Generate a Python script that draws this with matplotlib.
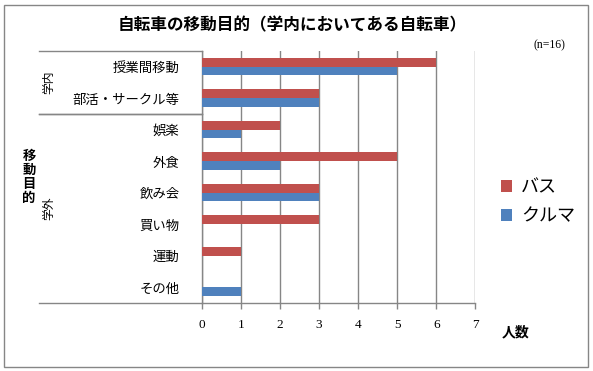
import matplotlib
matplotlib.use("Agg")
import matplotlib.pyplot as plt
from matplotlib.patches import Rectangle
import numpy as np

plt.rcParams['font.family'] = ['Noto Sans CJK JP', 'DejaVu Sans']

categories = ["授業間移動", "部活・サークル等", "娯楽", "外食", "飲み会", "買い物", "運動", "その他"]
bus = [6, 3, 2, 5, 3, 3, 1, 0]
car = [5, 3, 1, 2, 3, 0, 0, 1]
series_names = ["バス", "クルマ"]
groups = [("学内", 0, 2), ("学外", 2, 8)]
x_ticks = [0, 1, 2, 3, 4, 5, 6, 7]

RED = "#C0504D"
BLUE = "#4F81BD"
GRAY = "#868686"

W, H = 593, 371
fig = plt.figure(figsize=(W / 100, H / 100), dpi=100)
fig.patch.set_facecolor("white")

# outer frame
fig.add_artist(Rectangle((4 / W, 1 - 367 / H), 584 / W, 362 / H, transform=fig.transFigure,
                         fill=False, edgecolor=GRAY, linewidth=1.0))

left, right, top, bottom = 201.7, 475.3, 51, 302.7
ax = fig.add_axes([left / W, 1 - bottom / H, (right - left) / W, (bottom - top) / H])

y = np.arange(len(categories))
h = 0.277
ax.barh(y - h / 2, bus, height=h, color=RED, label=series_names[0], zorder=3)
ax.barh(y + h / 2, car, height=h, color=BLUE, label=series_names[1], zorder=3)

ax.set_ylim(len(categories) - 0.5, -0.5)
ax.set_xlim(0, 7)
ax.set_xticks(x_ticks)
ax.set_xticklabels([str(t) for t in x_ticks], fontfamily="Liberation Serif", fontsize=9.5)
ax.set_yticks(y)
ax.set_yticklabels(categories, fontsize=9.6)
ax.tick_params(axis="y", length=0, pad=16)
ax.tick_params(axis="x", length=4, color=GRAY, width=1, pad=8)

ax.grid(axis="x", color=GRAY, linewidth=1.0, zorder=0)
ax.set_axisbelow(True)
for s in ["top", "right"]:
    ax.spines[s].set_visible(False)
for s in ["left", "bottom"]:
    ax.spines[s].set_color(GRAY)
    ax.spines[s].set_linewidth(1.0)

# multi-level category lines and group labels
tr = ax.get_yaxis_transform()
x0 = (39 - left) / (right - left)
for name, a, b in groups:
    ax.plot([x0, 0], [a - 0.5, a - 0.5], transform=tr, color=GRAY, lw=1.0, clip_on=False)
    ax.plot([x0, 0], [b - 0.5, b - 0.5], transform=tr, color=GRAY, lw=1.0, clip_on=False)
    xl = (49 - left) / (right - left)
    ax.text(xl, (a + b - 1) / 2, name, transform=tr, rotation=90, ha="center", va="center",
            fontsize=8.5)

# axis titles
fig.text(29 / W, 1 - 177 / H, "移\n動\n目\n的", ha="center", va="center", fontsize=9.6,
         fontweight="bold", linespacing=1.0)
fig.text(516 / W, 1 - 332 / H, "人数", ha="center", va="center", fontsize=10, fontweight="bold")

# title & note
fig.text(292 / W, 1 - 25 / H, "自転車の移動目的（学内においてある自転車）", ha="center", va="center",
         fontsize=12, fontweight="bold")
fig.text(549 / W, 1 - 45 / H, "(n=16)", ha="center", va="center", fontsize=8.5,
         fontfamily="Liberation Serif")

# legend
ax.legend(loc="center left", bbox_to_anchor=(485 / W, 1 - 202 / H), bbox_transform=fig.transFigure,
          frameon=False, fontsize=13, handlelength=0.6, handleheight=0.6, handletextpad=0.5,
          labelspacing=0.6)

fig.savefig("out.png", dpi=100, facecolor="white")
